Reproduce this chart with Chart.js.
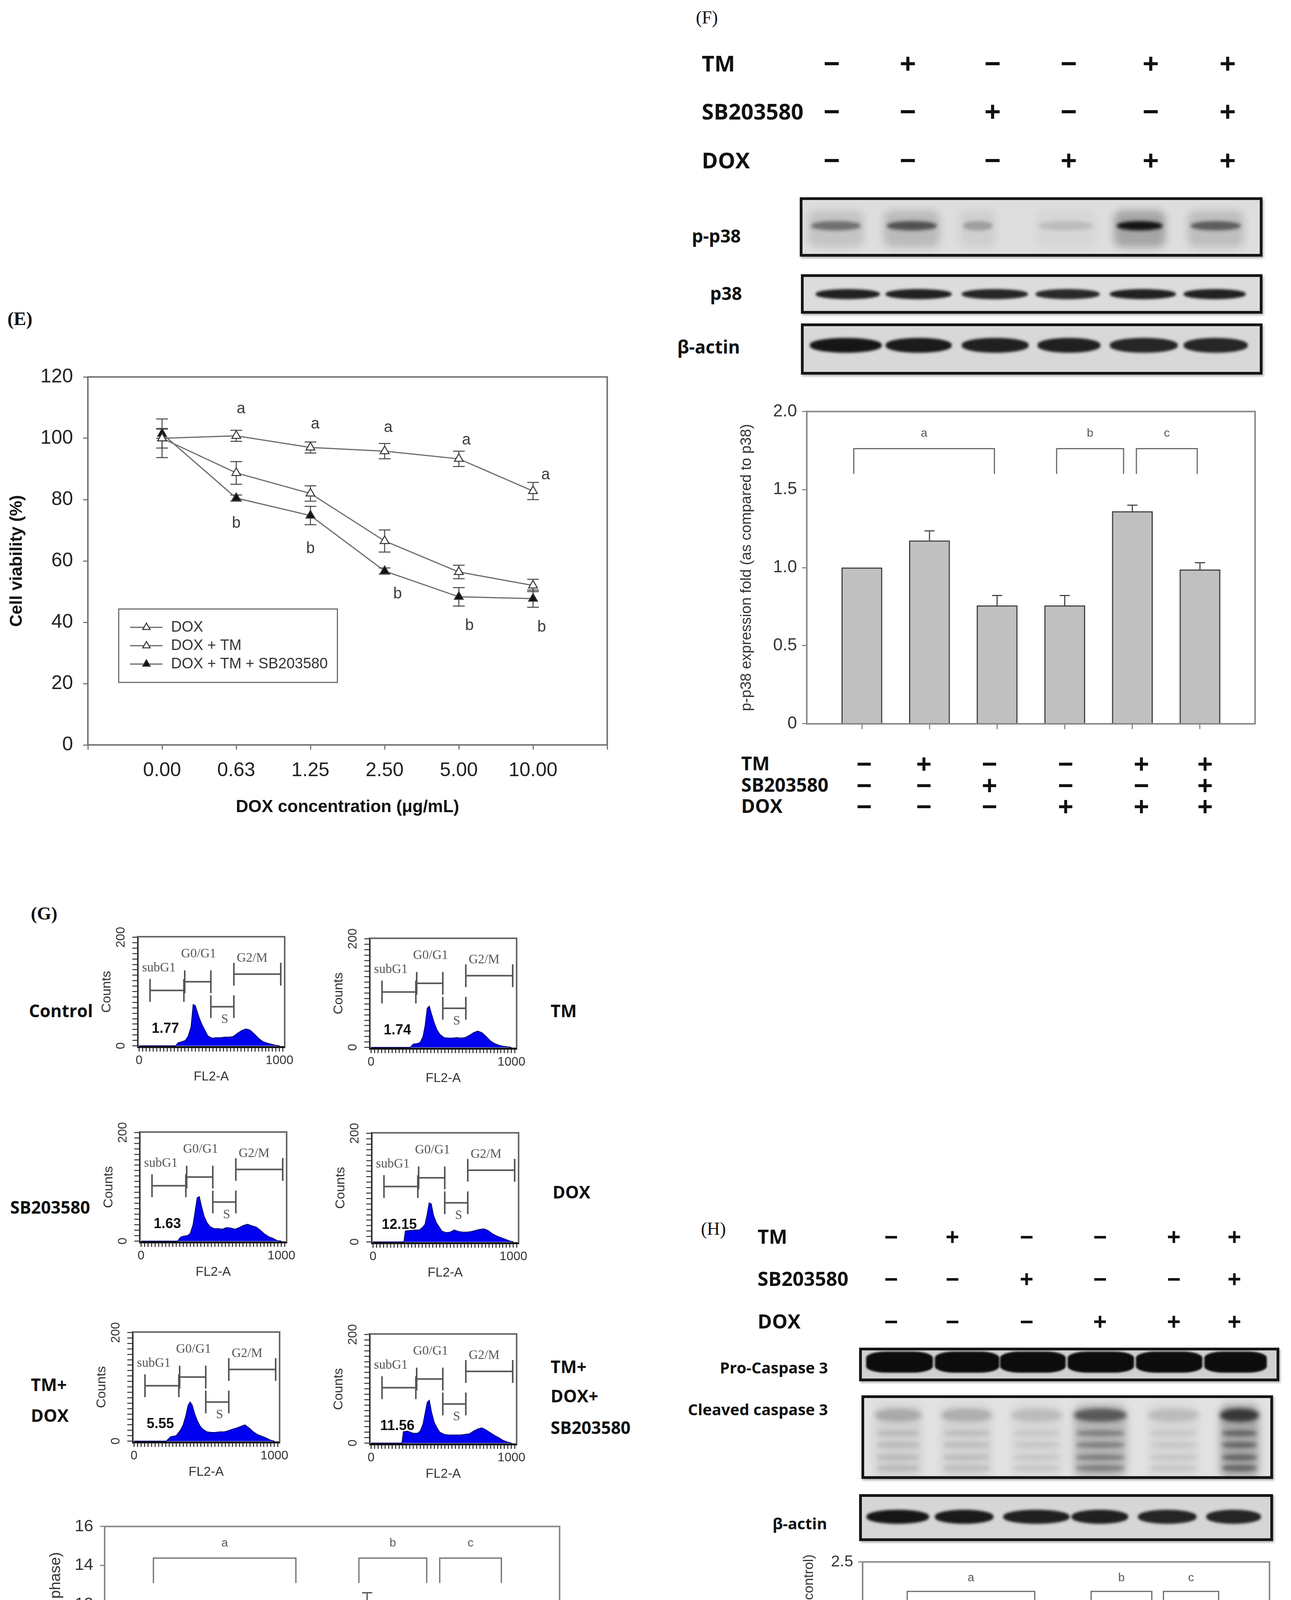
<!DOCTYPE html>
<html><head><meta charset="utf-8">
<script src="https://cdn.jsdelivr.net/npm/chart.js"></script>
<style>
html,body{margin:0;padding:0;background:#fff;}
body{position:relative;width:3306px;height:4947px;overflow:hidden;font-family:'Liberation Sans',Arial,sans-serif;}
.t{position:absolute;white-space:nowrap;line-height:1;}
.lab{font-family:'Open Sans',sans-serif;font-weight:700;color:#111;transform:translateY(-50%);}
.labr{font-family:'Open Sans',sans-serif;font-weight:700;color:#111;transform:translate(-100%,-50%);}
.sg{font-family:'Open Sans',sans-serif;font-weight:700;color:#111;transform:translate(-50%,-50%);}
.pl{font-family:'Liberation Serif',serif;font-weight:700;color:#111;transform:translateY(-50%);}
.plr{font-family:'Liberation Serif',serif;font-weight:400;color:#111;transform:translateY(-50%);}
.blot{position:absolute;box-sizing:border-box;border:7px solid #161616;background:#dadada;overflow:hidden;box-shadow:3px 4px 5px rgba(0,0,0,0.3);}
.band{position:absolute;border-radius:50%/45%;filter:blur(3px);}
canvas{position:absolute;}
</style></head><body>
<script>
// ---------------- DATA ----------------
// Panel E: cell viability
const eCategories = ['0.00','0.63','1.25','2.50','5.00','10.00'];
const eYTicks = [0,20,40,60,80,100,120];
const eSeriesLabels = ['DOX','DOX + TM','DOX + TM + SB203580'];
const eDox = [100,100.8,97,95.8,93.3,82.8];
const eDoxErr = [3.2,1.8,1.8,2.5,2.5,2.8];
const eDoxTm = [100,88.7,82,66.5,56.4,52];
const eDoxTmErr = [6.3,3.7,2.5,3.6,2.2,2];
const eDoxTmSb = [101.5,80.5,74.8,56.7,48.3,47.7];
const eDoxTmSbErr = [1.5,1,3,1,3,2.8];
const eLetterA = ['','a','a','a','a','a'];
const eLetterB = ['','b','b','b','b','b'];

// Treatment conditions (shared by F, G, H)
const conditionTM  = ['−','+','−','−','+','+'];
const conditionSB  = ['−','−','+','−','−','+'];
const conditionDOX = ['−','−','−','+','+','+'];

// Panel F: p-p38 expression fold
const fValues = [1.0,1.173,0.757,0.757,1.36,0.987];
const fErrors = [0,0.062,0.064,0.064,0.04,0.044];
const fYTicks = [0,0.5,1.0,1.5,2.0];
// Panel G: apoptotic cell rate
const gValues = [1.81,1.81,1.84,12.14,5.46,10.59];
const gErrors = [0.07,0.13,0.1,0.46,0.27,1.17];
const gYTicks = [0,2,4,6,8,10,12,14,16];
// Panel H: cleaved caspase 3
const hValues = [1.0,0.873,0.84,1.572,0.95,1.703];
const hErrors = [0,0.07,0.107,0.236,0.076,0.258];
const hYTicks = [0,0.5,1.0,1.5,2.0,2.5];
// significance groups
const sigGroups = [{label:'a',from:0,to:2},{label:'b',from:3,to:4},{label:'c',from:4,to:5}];

// Panel G: flow cytometry histograms (FL2-A channel vs counts)
const histChannels = [0,220,230,260,280,300,330,350,370,385,400,415,430,450,470,490,520,550,580,610,640,670,700,730,760,790,820,850,880,910,940,970,1000];
const histControl = [0,0,0,0,6,7,10,18,35,76,74,62,50,38,28,18,14,15,15,16,16,17,23,28,31,29,22,14,8,5,3,1,0];
const histTM      = [0,0,0,0,0,6,7,9,20,40,72,76,62,45,32,24,18,17,17,18,17,18,22,27,30,27,20,12,7,4,2,1,0];
const histSB      = [0,0,0,0,7,9,10,14,30,55,80,82,65,45,34,27,23,23,22,25,24,22,25,29,31,28,26,20,13,8,5,1,0];
const histDOX     = [0,0,20,21,21,22,22,26,32,50,72,70,50,36,28,20,17,18,22,19,18,18,19,21,23,24,21,15,11,8,5,2,0];
const histTMDOX   = [0,0,0,8,9,10,20,30,48,66,72,66,52,38,28,22,17,16,16,17,17,19,22,24,27,30,24,17,12,9,6,2,0];
const histTMDOXSB = [0,0,21,22,20,18,18,22,35,55,75,79,58,38,28,20,16,15,15,15,15,16,17,22,26,28,24,19,14,10,5,2,0];
const histSubG1 = ['1.77','1.74','1.63','12.15','5.55','11.56'];
const histXLabels = [0,1000];
const histYLabels = [0,200];
const histGates = [
  {name:'subG1', from:78,  to:319,  y:102},
  {name:'G0/G1', from:325, to:511,  y:118},
  {name:'S',     from:511, to:675,  y:72},
  {name:'G2/M',  from:675, to:1009, y:132}
];

// Western blot band intensities (0..1)
const fPp38Bands  = [0.45,0.6,0.25,0.12,0.95,0.55];
const fP38Bands   = [0.9,0.9,0.88,0.86,0.9,0.9];
const fActinBands = [0.95,0.93,0.9,0.9,0.88,0.88];
const hProCaspBands = [1,1,1,1,1,1];
const hCleavedBands = [0.22,0.2,0.15,0.6,0.15,0.8];
const hActinBands   = [0.95,0.93,0.9,0.9,0.88,0.88];

// ---------------- HELPERS ----------------
Chart.defaults.font.family = "'Liberation Sans', Arial, sans-serif";
Chart.defaults.color = '#333';

function txt(s, x, y, cls, size, extra){
  const d=document.createElement('div'); d.className='t '+cls; d.textContent=s;
  d.style.left=x+'px'; d.style.top=y+'px'; d.style.fontSize=size+'px';
  if(extra) Object.assign(d.style, extra);
  document.body.appendChild(d); return d;
}
function signTable(labelX, colX, rowY, labSize, sgSize){
  const rows=[['TM',conditionTM],['SB203580',conditionSB],['DOX',conditionDOX]];
  rows.forEach(([name,arr],r)=>{
    txt(name,labelX,rowY[r],'lab',labSize);
    arr.forEach((s,i)=>txt(s,colX[i],rowY[r],'sg',sgSize));
  });
}
function placeCanvas(plot,yW,xH,pad){
  const left=plot.l-yW-pad.l, top=plot.t-pad.t;
  const w=Math.round(plot.r+pad.r-left), h=Math.round(plot.b+xH+pad.b-top);
  const c=document.createElement('canvas'); c.width=w; c.height=h;
  c.style.left=left+'px'; c.style.top=top+'px'; c.style.width=w+'px'; c.style.height=h+'px';
  document.body.appendChild(c); return c;
}
function finalize(cfg,yW,xH,pad){
  Object.assign(cfg.options,{responsive:false,maintainAspectRatio:false,devicePixelRatio:1,animation:false,
    layout:{padding:{left:pad.l,top:pad.t,right:pad.r,bottom:pad.b}}});
  cfg.options.plugins=Object.assign({legend:{display:false},tooltip:{enabled:false}},cfg.options.plugins||{});
  cfg.options.scales.x.afterFit=s=>{s.height=xH;};
  cfg.options.scales.y.afterFit=s=>{s.width=yW;};
  return cfg;
}
const framePlugin={id:'frame',afterDraw(chart,args,o){
  if(!o||!o.color) return;
  const {ctx,chartArea:a}=chart; ctx.save(); ctx.strokeStyle=o.color; ctx.lineWidth=o.width;
  ctx.beginPath(); ctx.moveTo(a.left,a.top); ctx.lineTo(a.right,a.top); ctx.lineTo(a.right,a.bottom); ctx.stroke(); ctx.restore();
}};
function tri(ctx,x,y,r,fill,stroke,lw){
  ctx.beginPath();
  for(let k=0;k<3;k++){const ang=k*2*Math.PI/3; const px=x+Math.sin(ang)*r, py=y-Math.cos(ang)*r; k?ctx.lineTo(px,py):ctx.moveTo(px,py);}
  ctx.closePath(); ctx.fillStyle=fill; ctx.fill(); ctx.strokeStyle=stroke; ctx.lineWidth=lw; ctx.stroke();
}

// ---------------- PANEL E ----------------
(function(){
  const plot={l:225,t:949,r:1559,b:1907}, yW=225, xH=200, pad={l:0,t:40,r:20,b:0};
  const c=placeCanvas(plot,yW,xH,pad);
  const series=[[eDox,eDoxErr,'#fff'],[eDoxTm,eDoxTmErr,'#fff'],[eDoxTmSb,eDoxTmSbErr,'#111']];
  const letterPos={a:[null,[12,109.6],[12,104.6],[9,103.4],[19,99.4],[32,88]],
                   b:[null,[0,72.2],[0,64],[33,49.2],[27,38.8],[22,38.3]]};
  const eErr={id:'eErr',beforeDatasetsDraw(chart){
    const {ctx}=chart, xs=chart.scales.x, ys=chart.scales.y; ctx.save(); ctx.strokeStyle='#444'; ctx.lineWidth=2.5;
    series.forEach(([v,e])=>v.forEach((val,i)=>{
      const x=xs.getPixelForValue(i), y1=ys.getPixelForValue(val+e[i]), y2=ys.getPixelForValue(val-e[i]);
      ctx.beginPath(); ctx.moveTo(x,y1); ctx.lineTo(x,y2); ctx.moveTo(x-15,y1); ctx.lineTo(x+15,y1); ctx.moveTo(x-15,y2); ctx.lineTo(x+15,y2); ctx.stroke();
    }));
    ctx.restore();
  },afterDatasetsDraw(chart){
    const {ctx}=chart, xs=chart.scales.x, ys=chart.scales.y; ctx.save();
    ctx.fillStyle='#3a3a3a'; ctx.font="40px 'Liberation Sans'"; ctx.textAlign='center'; ctx.textBaseline='middle';
    [[eLetterA,letterPos.a],[eLetterB,letterPos.b]].forEach(([L,P])=>L.forEach((s,i)=>{ if(!s) return;
      ctx.fillText(s, xs.getPixelForValue(i)+P[i][0], ys.getPixelForValue(P[i][1])); }));
    // legend
    const a=chart.chartArea, bx=a.left+79, by=a.top+594, bw=560, bh=188;
    ctx.strokeStyle='#555'; ctx.lineWidth=2.5; ctx.strokeRect(bx,by,bw,bh);
    chart.data.datasets.forEach((ds,i)=>{
      const y=by+47+i*47;
      ctx.strokeStyle='#666'; ctx.lineWidth=3; ctx.beginPath(); ctx.moveTo(bx+29,y); ctx.lineTo(bx+112,y); ctx.stroke();
      tri(ctx,bx+71,y,11,ds.pointBackgroundColor,'#333',2.5);
      ctx.fillStyle='#333'; ctx.font="38px 'Liberation Sans'"; ctx.textAlign='left'; ctx.textBaseline='middle';
      ctx.fillText(ds.label,bx+134,y+1);
    });
    ctx.restore();
  }};
  const cfg={type:'line',
    data:{datasets:series.map((s,k)=>({label:eSeriesLabels[k],data:s[0].map((v,i)=>({x:i,y:v})),
      borderColor:'#6a6a6a',borderWidth:3,pointStyle:'triangle',pointRadius:13,
      pointBackgroundColor:s[2],pointBorderColor:'#333',pointBorderWidth:2.5,tension:0,fill:false}))},
    options:{plugins:{frame:{color:'#777',width:4}},
      scales:{
        x:{type:'linear',min:-1,max:6,
          grid:{drawOnChartArea:false,drawTicks:true,tickLength:12,color:'#777',lineWidth:3},
          border:{color:'#777',width:4},
          ticks:{stepSize:1,autoSkip:false,maxRotation:0,minRotation:0,padding:24,color:'#222',font:{size:50},
            callback:v=>eCategories[v]!==undefined?eCategories[v]:''},
          title:{display:true,text:'DOX concentration (μg/mL)',color:'#111',font:{size:44,weight:'bold'},padding:{top:0,bottom:14}}},
        y:{min:0,max:120,afterBuildTicks:s=>{s.ticks=eYTicks.map(v=>({value:v}));},
          grid:{drawOnChartArea:false,drawTicks:true,tickLength:12,color:'#777',lineWidth:3},
          border:{color:'#777',width:4},
          ticks:{padding:26,color:'#222',font:{size:50}},
          title:{display:true,text:'Cell viability (%)',color:'#111',font:{size:44,weight:'bold'},padding:{top:17,bottom:0}}}
      }},
    plugins:[framePlugin,eErr]};
  new Chart(c,finalize(cfg,yW,xH,pad));
})();

// ---------------- BAR CHARTS (F, G, H) ----------------
const barExtras={id:'barExtras',afterDatasetsDraw(chart,args,o){
  const {ctx}=chart, xs=chart.scales.x, ys=chart.scales.y; ctx.save();
  ctx.strokeStyle='#4a4a4a'; ctx.lineWidth=3;
  o.values.forEach((v,i)=>{const e=o.errors[i]; if(!e) return;
    const x=xs.getPixelForValue(i), y0=ys.getPixelForValue(v), y1=ys.getPixelForValue(v+e);
    ctx.beginPath(); ctx.moveTo(x,y0); ctx.lineTo(x,y1); ctx.moveTo(x-13,y1); ctx.lineTo(x+13,y1); ctx.stroke();});
  ctx.strokeStyle='#6a6a6a'; ctx.lineWidth=3; ctx.fillStyle='#555'; ctx.font="30px 'Liberation Sans'"; ctx.textAlign='center'; ctx.textBaseline='middle';
  const br=sigGroups;
  br.forEach((b,k)=>{
    const sp=k>0&&br[k-1].to===b.from, sn=k<br.length-1&&br[k+1].from===b.to;
    const s=sp?b.from+0.06:b.from-0.12, e=sn?b.to-0.13:b.to-0.04;
    const xa=xs.getPixelForValue(s), xb=xs.getPixelForValue(e);
    const yt=ys.getPixelForValue(o.level.top), yb=ys.getPixelForValue(o.level.bottom);
    ctx.beginPath(); ctx.moveTo(xa,yb); ctx.lineTo(xa,yt); ctx.lineTo(xb,yt); ctx.lineTo(xb,yb); ctx.stroke();
    ctx.fillText(b.label,(xa+xb)/2,ys.getPixelForValue(o.level.text));
  });
  ctx.restore();
}};
function makeBar(p){
  const pad={l:0,t:30,r:20,b:0}, xH=30;
  const c=placeCanvas(p.plot,p.yW,xH,pad);
  const cfg={type:'bar',
    data:{datasets:[{data:p.values.map((v,i)=>({x:i,y:v})),backgroundColor:'#c0c0c0',borderColor:'#3c3c3c',borderWidth:3,barThickness:p.barW,borderSkipped:'bottom'}]},
    options:{plugins:{frame:{color:'#8a8a8a',width:4},barExtras:{values:p.values,errors:p.errors,level:p.level}},
      scales:{
        x:{type:'linear',min:p.xmin,max:p.xmax,offset:false,
          grid:{offset:false,drawOnChartArea:false,drawTicks:true,tickLength:14,color:'#8a8a8a',lineWidth:3},
          border:{color:'#8a8a8a',width:4},
          ticks:{stepSize:1,includeBounds:false,autoSkip:false,display:false}},
        y:{min:0,max:p.ymax,afterBuildTicks:s=>{s.ticks=p.yTicks.map(v=>({value:v}));},
          grid:{drawOnChartArea:false,drawTicks:true,tickLength:12,color:'#8a8a8a',lineWidth:3},
          border:{color:'#8a8a8a',width:4},
          ticks:{padding:p.tickPad,color:'#333',font:{size:p.tickSize},callback:p.fmt},
          title:{display:true,text:p.yTitle,color:'#333',font:{size:p.titleSize},padding:{top:p.titlePad,bottom:0}}}
      }},
    plugins:[framePlugin,barExtras]};
  new Chart(c,finalize(cfg,p.yW,xH,pad));
}
const fmt1=v=>v===0?'0':v.toFixed(1);
makeBar({plot:{l:2066,t:1044,r:3214,b:1862},yW:206,values:fValues,errors:fErrors,yTicks:fYTicks,ymax:2.0,
  xmin:-0.815,xmax:5.815,barW:104,tickSize:44,tickPad:13,fmt:fmt1,
  yTitle:'p-p38 expression fold (as compared to p38)',titleSize:38,titlePad:30,level:{top:1.762,bottom:1.6,text:1.858}});
makeBar({plot:{l:268,t:3895,r:1433,b:4719},yW:220,values:gValues,errors:gErrors,yTicks:gYTicks,ymax:16,
  xmin:-0.832,xmax:5.81,barW:107,tickSize:43,tickPad:17,fmt:v=>String(v),
  yTitle:'Apoptotic cell rate (% of subG1 phase)',titleSize:39,titlePad:72,level:{top:14.38,bottom:13.1,text:15.13}});
makeBar({plot:{l:2209,t:3992,r:3251,b:4735},yW:200,values:hValues,errors:hErrors,yTicks:hYTicks,ymax:2.5,
  xmin:-0.847,xmax:5.79,barW:94,tickSize:41,tickPad:12,fmt:fmt1,
  yTitle:'Cleaved caspase 3 level (as compared to control)',titleSize:35,titlePad:42,level:{top:2.242,bottom:2.035,text:2.36}});

// ---------------- HISTOGRAMS (G) ----------------
const histAll=[histControl,histTM,histSB,histDOX,histTMDOX,histTMDOXSB];
const histBoxes=[{l:353,t:2398},{l:947,t:2402},{l:358,t:2898},{l:952,t:2900},{l:340,t:3410},{l:947,t:3415}];
const histExtras={id:'histExtras',afterDatasetsDraw(chart,args,o){
  const {ctx}=chart, xs=chart.scales.x, ys=chart.scales.y, a=chart.chartArea; ctx.save();
  ctx.strokeStyle='#555'; ctx.lineWidth=4; ctx.fillStyle='#555'; ctx.font="33px 'Liberation Serif'"; ctx.textAlign='center'; ctx.textBaseline='middle';
  const lab={'subG1':[141,143],'G0/G1':[424,169],'S':[610,48],'G2/M':[805,161]};
  histGates.forEach(g=>{
    const x0=xs.getPixelForValue(g.from), x1=xs.getPixelForValue(g.to), y=ys.getPixelForValue(g.y), h=ys.getPixelForValue(g.y-21)-y;
    ctx.beginPath(); ctx.moveTo(x0,y); ctx.lineTo(x1,y); ctx.moveTo(x0,y-h); ctx.lineTo(x0,y+h); ctx.moveTo(x1,y-h); ctx.lineTo(x1,y+h); ctx.stroke();
    ctx.fillText(g.name, xs.getPixelForValue(lab[g.name][0]), ys.getPixelForValue(lab[g.name][1]));
  });
  ctx.fillStyle='#111'; ctx.font="bold 36px 'Liberation Sans'";
  ctx.fillText(o.label, xs.getPixelForValue(187), ys.getPixelForValue(31));
  ctx.fillStyle='#333'; ctx.font="32px 'Liberation Sans'";
  histYLabels.forEach(v=>{ctx.save(); ctx.translate(a.left-43, ys.getPixelForValue(v)); ctx.rotate(-Math.PI/2); ctx.fillText(String(v),0,0); ctx.restore();});
  ctx.restore();
}};
histAll.forEach((counts,k)=>{
  const b=histBoxes[k], plot={l:b.l,t:b.t,r:b.l+376,b:b.t+282}, yW=110, xH=100, pad={l:0,t:30,r:50,b:0};
  const c=placeCanvas(plot,yW,xH,pad);
  const cfg={type:'line',
    data:{datasets:[{data:histChannels.map((x,i)=>({x,y:counts[i]})),borderColor:'#00006a',borderWidth:2,backgroundColor:'#0000f0',fill:'origin',pointRadius:0,tension:0}]},
    options:{plugins:{frame:{color:'#666',width:4},histExtras:{label:histSubG1[k]}},
      scales:{
        x:{type:'linear',min:-9,max:1037,
          grid:{drawOnChartArea:false,drawTicks:true,tickLength:12,color:'#222',lineWidth:2.5},
          border:{color:'#111',width:5},
          ticks:{stepSize:25,includeBounds:false,autoSkip:false,maxRotation:0,minRotation:0,padding:4,color:'#333',font:{size:32},
            callback:v=>histXLabels.includes(v)?String(v):''},
          title:{display:true,text:'FL2-A',color:'#333',font:{size:33},padding:{top:0,bottom:3}}},
        y:{min:-2,max:201,
          grid:{drawOnChartArea:false,drawTicks:true,tickLength:14,color:'#333',lineWidth:2.5},
          border:{color:'#333',width:4},
          ticks:{stepSize:10,includeBounds:false,display:false},
          title:{display:true,text:'Counts',color:'#333',font:{size:34},padding:{top:10,bottom:0}}}
      }},
    plugins:[framePlugin,histExtras]};
  new Chart(c,finalize(cfg,yW,xH,pad));
});

// ---------------- TEXT LABELS ----------------
txt('(E)',19,816,'pl',48);
txt('(F)',1782,45,'plr',46);
txt('(G)',79,2338,'pl',47);
txt('(H)',1795,3146,'plr',46);
signTable(1797,[2130,2325,2542,2737,2947,3144],[161,284,409],56,74);
signTable(1898,[2213,2366,2534,2729,2923,3086],[1954,2009,2063],48,70);
signTable(117,[410,590,759,943,1110,1268],[4784,4835,4889],45,68);
signTable(1940,[2282,2439,2629,2817,3006,3161],[3165,3273,3382],50,62);
signTable(2080,[2356,2519,2665,2837,2978,3123],[4800,4846,4896],42,56);
// histogram side labels
[['Control',74,2587],['TM',1410,2587],['SB203580',26,3090],['DOX',1415,3051],['TM+',79,3544],['DOX',79,3623],
 ['TM+',1410,3498],['DOX+',1410,3573],['SB203580',1410,3654]].forEach(([s,x,y])=>txt(s,x,y,'lab',44));
// blot labels
txt('p-p38',1897,603,'labr',46); txt('p38',1900,750,'labr',46); txt('β-actin',1895,887,'labr',46);
txt('Pro-Caspase 3',2120,3501,'labr',40); txt('Cleaved caspase 3',2120,3608,'labr',40); txt('β-actin',2118,3900,'labr',40);

// ---------------- WESTERN BLOTS ----------------
function blot(x0,y0,x1,y1,bg){
  const d=document.createElement('div'); d.className='blot';
  Object.assign(d.style,{left:x0+'px',top:y0+'px',width:(x1-x0)+'px',height:(y1-y0)+'px',background:bg||'#dadada'});
  document.body.appendChild(d); d._x=x0+7; d._y=y0+7; return d;
}
function band(box,x0,x1,yc,h,alpha,blur,rad){
  const b=document.createElement('div'); b.className='band';
  Object.assign(b.style,{left:(x0-box._x)+'px',top:(yc-h/2-box._y)+'px',width:(x1-x0)+'px',height:h+'px',
    background:`rgba(12,12,12,${alpha})`,filter:`blur(${blur||3}px)`,borderRadius:rad||'50%/45%'});
  box.appendChild(b);
}
(function(){
  let bx=blot(2048,505,3233,657,'#dedede');
  const L1=[[2069,2212],[2263,2407],[2458,2550],[2652,2806],[2852,2985],[3041,3185]];
  L1.forEach((l,i)=>{band(bx,l[0],l[1],585,95,fPp38Bands[i]*0.28,10,'20%'); band(bx,l[0]+8,l[1]-8,578,24,fPp38Bands[i],4);});
  bx=blot(2051,702,3233,803,'#dcdcdc');
  const L2=[[2089,2253],[2268,2437],[2463,2632],[2652,2816],[2842,3011],[3031,3190]];
  L2.forEach((l,i)=>band(bx,l[0],l[1],753,26,fP38Bands[i],3));
  bx=blot(2051,828,3233,959,'#d8d8d8');
  const L3=[[2074,2258],[2268,2437],[2463,2634],[2657,2818],[2842,3016],[3031,3195]];
  L3.forEach((l,i)=>band(bx,l[0],l[1],884,38,fActinBands[i],3));

  bx=blot(2200,3450,3276,3536,'#d0d0d0');
  const H1=[[2218,2389],[2394,2559],[2561,2729],[2734,2904],[2909,3079],[3084,3244]];
  H1.forEach((l,i)=>band(bx,l[0],l[1],3487,54,hProCaspBands[i],2,'30%'));
  bx=blot(2206,3572,3260,3786,'#e2e2e2');
  const H2=[[2240,2360],[2410,2540],[2590,2720],[2750,2885],[2940,3070],[3124,3224]];
  H2.forEach((l,i)=>{const a=hCleavedBands[i];
    band(bx,l[0],l[1],3690,190,a*0.35,10,'15%');
    band(bx,l[0],l[1],3623,34,a*0.9,6);
    [3669,3699,3731,3758].forEach(y=>band(bx,l[0]+5,l[1]-5,y,16,a*0.5,5));});
  bx=blot(2200,3825,3260,3945,'#d6d6d6');
  const H3=[[2219,2379],[2394,2544],[2569,2739],[2744,2889],[2914,3064],[3089,3229]];
  H3.forEach((l,i)=>band(bx,l[0],l[1],3883,36,hActinBands[i],3));
})();
</script>
</body></html>
